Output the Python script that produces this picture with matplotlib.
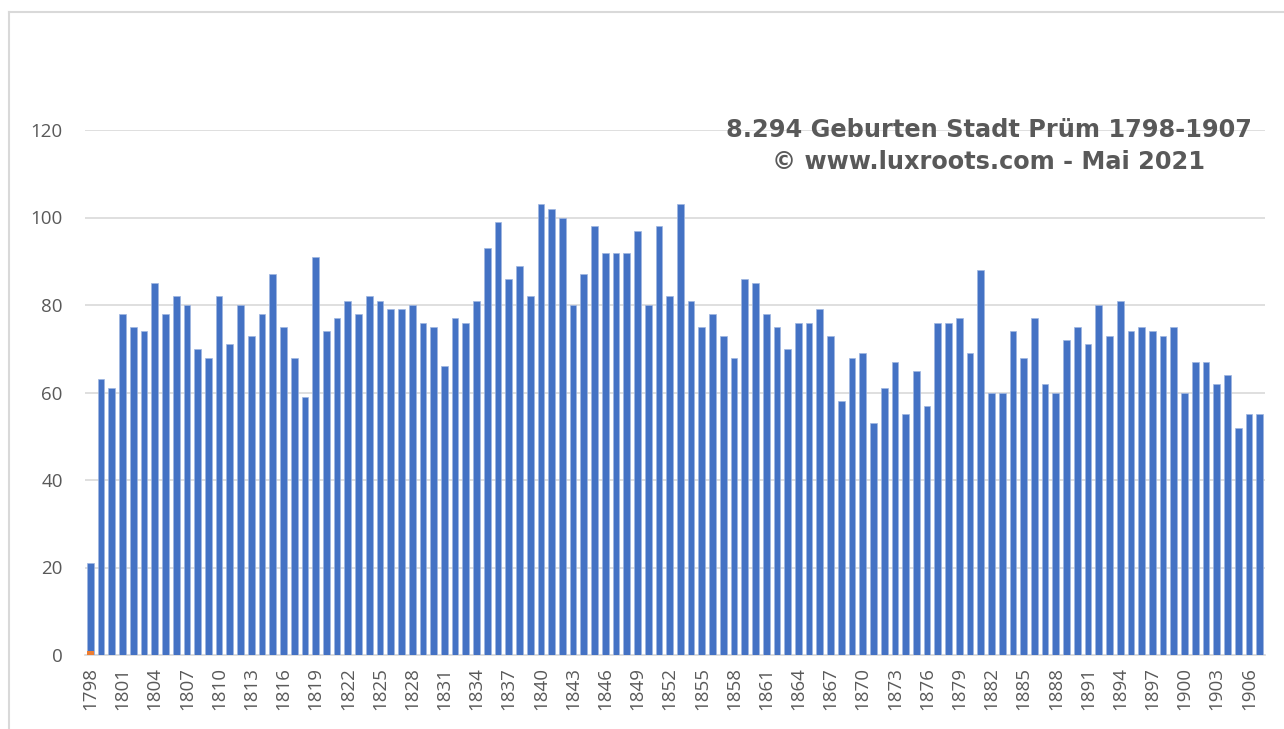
import numpy as np
import matplotlib
matplotlib.use("Agg")
import matplotlib.pyplot as plt
from matplotlib.lines import Line2D

# Geburten pro Jahr, Stadt Prüm 1798-1907
years = list(range(1798, 1908))
births = [
    21, 63, 61, 78, 75, 74, 85, 78, 82, 80,
    70, 68, 82, 71, 80, 73, 78, 87, 75, 68,
    59, 91, 74, 77, 81, 78, 82, 81, 79, 79,
    80, 76, 75, 66, 77, 76, 81, 93, 99, 86,
    89, 82, 103, 102, 100, 80, 87, 98, 92, 92,
    92, 97, 80, 98, 82, 103, 81, 75, 78, 73,
    68, 86, 85, 78, 75, 70, 76, 76, 79, 73,
    58, 68, 69, 53, 61, 67, 55, 65, 57, 76,
    76, 77, 69, 88, 60, 60, 74, 68, 77, 62,
    60, 72, 75, 71, 80, 73, 81, 74, 75, 74,
    73, 75, 60, 67, 67, 62, 64, 52, 55, 55,
]
# zweite Reihe (nur 1798 sichtbar)
second = [1] + [0] * (len(years) - 1)

tick_years = years[::3]
title_lines = ["8.294 Geburten Stadt Prüm 1798-1907", "© www.luxroots.com - Mai 2021"]

W, H = 1284, 729
fig = plt.figure(figsize=(W / 100, H / 100), dpi=100)
ax = fig.add_axes([85 / W, (H - 655) / H, 1180 / W, 525 / H])

x = np.arange(len(years))
ax.bar(x, births, width=0.62, color="#4472C4", edgecolor="#9fb6e0",
       linewidth=0.5, zorder=3)
ax.bar(x, second, width=0.62, color="#ED7D31", linewidth=0, zorder=4)

ax.set_xlim(-0.5, len(years) - 0.5)
ax.set_ylim(0, 120)
ax.set_yticks(range(0, 121, 20))
ax.set_xticks(x[::3])
ax.set_xticklabels([str(y) for y in tick_years], rotation=90)
for lab in ax.get_xticklabels() + ax.get_yticklabels():
    lab.set_family("Open Sans")

ax.grid(axis="y", color="#D9D9D9", linewidth=1.2, zorder=0)
ax.set_axisbelow(True)
for s in ["top", "right", "left"]:
    ax.spines[s].set_visible(False)
ax.spines["bottom"].set_color("#D9D9D9")
ax.spines["bottom"].set_linewidth(1.2)
ax.tick_params(axis="both", length=0, labelsize=13.5, labelcolor="#595959")
ax.tick_params(axis="y", pad=16)
ax.tick_params(axis="x", pad=9)

fig.text(989 / W, 1 - 130 / H, title_lines[0], ha="center", va="center",
         fontsize=17.3, fontweight="bold", color="#595959")
fig.text(989 / W, 1 - 162 / H, title_lines[1], ha="center", va="center",
         fontsize=17.3, fontweight="bold", color="#595959")

# Rahmen des Diagramms
fig.add_artist(Line2D([9 / W, 1], [1 - 12 / H, 1 - 12 / H], color="#D9D9D9", lw=1.5))
fig.add_artist(Line2D([9 / W, 9 / W], [0, 1 - 12 / H], color="#D9D9D9", lw=1.5))

fig.savefig("out.png", dpi=100, facecolor="white")
